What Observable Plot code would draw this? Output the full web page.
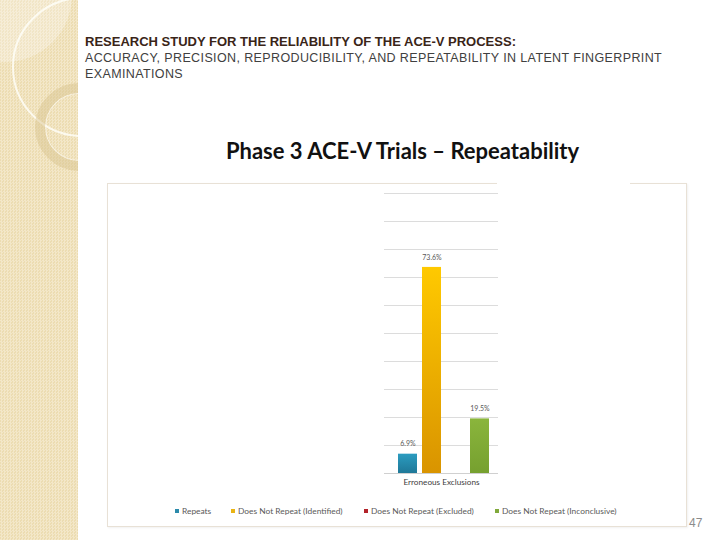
<!DOCTYPE html>
<html>
<head>
<meta charset="utf-8">
<script src="https://cdn.jsdelivr.net/npm/d3@7"></script>
<script src="https://cdn.jsdelivr.net/npm/@observablehq/plot@0.6"></script>
<style>
  html, body { margin: 0; padding: 0; background: #fff; }
  #page { position: relative; width: 720px; height: 540px; overflow: hidden; background: #fff; font-family: "Liberation Sans", Arial, sans-serif; }
  #strip { position: absolute; left: 0; top: 0; width: 78px; height: 540px; overflow: hidden;
    background-color: #efe1bb;
    background-image: repeating-conic-gradient(#f3e7c8 0 25%, #ecdcb1 0 50%);
    background-size: 3px 3px; }
  .abs { position: absolute; }
  #h1 { left: 85px; top: 34px; font-family: "Liberation Sans Narrow", "Liberation Sans", Arial, sans-serif; font-weight: bold; font-size: 13px; color: #3a2518; white-space: nowrap; }
  #h2 { left: 85px; top: 50px; font-size: 12.5px; letter-spacing: 0.38px; line-height: 16px; color: #404040; white-space: nowrap; }
  #title { left: 0; width: 805px; text-align: center; top: 137px; font-family: Lato, "Open Sans", sans-serif; font-weight: bold; font-size: 22px; color: #111; white-space: nowrap; }
  #box { left: 107px; top: 183px; width: 580px; height: 344px; border: 1px solid #e8e1d6; box-sizing: border-box; box-shadow: 1px 1px 2px rgba(0,0,0,0.06); }
  #chart { left: 107px; top: 183px; }
  .leg { position: absolute; top: 505px; font-family: Lato, sans-serif; font-size: 8.4px; color: #595959; white-space: nowrap; line-height: 12px; }
  .sw { position: absolute; top: 509px; width: 4px; height: 4px; }
</style>
</head>
<body>
<div id="page">
  <div id="strip">
    <div class="abs" style="left:-62px;top:-72px;width:134px;height:134px;border-radius:50%;background:rgba(255,255,255,0.28);"></div>
    <div class="abs" style="left:12px;top:-3px;width:136px;height:136px;border-radius:50%;border:2px solid rgba(255,255,250,0.8);"></div>
    <div class="abs" style="left:35px;top:83px;width:68px;height:68px;border-radius:50%;border:10px solid rgba(214,192,140,0.45);box-shadow: inset 0 0 0 1px rgba(255,255,255,0.5);"></div>
  </div>
  <div id="h1" class="abs">RESEARCH STUDY FOR THE RELIABILITY OF THE ACE-V PROCESS:</div>
  <div id="h2" class="abs">ACCURACY, PRECISION, REPRODUCIBILITY, AND REPEATABILITY IN LATENT FINGERPRINT<br>EXAMINATIONS</div>
  <div id="title" class="abs">Phase 3 ACE-V Trials – Repeatability</div>
  <div id="box" class="abs"></div>
  <div id="chart" class="abs"></div>
  <div class="abs" style="left:497px;top:181px;width:133px;height:4px;background:#fff;"></div>
  <div id="legend"></div>
  <div class="abs" style="left:689px;top:516px;font-family:'Liberation Sans Narrow','Liberation Sans',sans-serif;font-size:12px;color:#8c8c8c;">47</div>
</div>
<script>
const category = "Erroneous Exclusions";
const series = ["Repeats", "Does Not Repeat (Identified)", "Does Not Repeat (Excluded)", "Does Not Repeat (Inconclusive)"];
const values = [6.9, 73.6, 0, 19.5];
const valueLabels = ["6.9%", "73.6%", "", "19.5%"];
const swatchColors = ["#2b8aab", "#e9b414", "#b3222a", "#80a93b"];
const gradTop = ["#2b9cc0", "#ffc900", "#c8262e", "#8ab53c"];
const gradBottom = ["#1f7898", "#d99400", "#9c1a22", "#76a02f"];
const gradIds = ["gRep", "gId", "gEx", "gInc"];

const data = series.map((s, i) => ({ category, series: s, value: values[i], label: valueLabels[i] }));

const chart = Plot.plot({
  width: 580,
  height: 344,
  marginLeft: 277,
  marginRight: 189,
  marginTop: 10,
  marginBottom: 54,
  style: { background: "transparent", fontFamily: "Lato, sans-serif" },
  x: { domain: series, padding: 0.2, paddingOuter: 0.43, align: 0.61, axis: null },
  y: { domain: [0, 100], axis: null },
  color: { type: "ordinal", domain: series, range: gradIds.map(id => `url(#${id})`) },
  marks: [
    Plot.gridY({ ticks: 10, stroke: "#dcdcdc", strokeOpacity: 1 }),
    Plot.barY(data, { x: "series", y: "value", fill: "series" }),
    Plot.ruleY([0], { stroke: "#d0d0d0" }),
    Plot.text(data.filter(d => d.value > 0), { x: "series", y: "value", text: "label", dy: -10, fontSize: 7, fill: "#595959" }),
    Plot.text([category], { frameAnchor: "bottom", dy: 11, fontSize: 8.2, fill: "#404040" })
  ]
});
const defs = series.map((s, i) =>
  `<linearGradient id="${gradIds[i]}" x1="0" y1="0" x2="0" y2="1"><stop offset="0" stop-color="${gradTop[i]}"/><stop offset="1" stop-color="${gradBottom[i]}"/></linearGradient>`).join("");
chart.insertAdjacentHTML("afterbegin", `<defs>${defs}</defs>`);
document.getElementById("chart").appendChild(chart);

const legendX = [175, 231, 364, 495];
const legend = document.getElementById("legend");
series.forEach((s, i) => {
  const sw = document.createElement("div");
  sw.className = "sw";
  sw.style.left = legendX[i] + "px";
  sw.style.background = swatchColors[i];
  legend.appendChild(sw);
  const t = document.createElement("div");
  t.className = "leg";
  t.style.left = (legendX[i] + 7) + "px";
  t.textContent = s;
  legend.appendChild(t);
});
</script>
</body>
</html>
